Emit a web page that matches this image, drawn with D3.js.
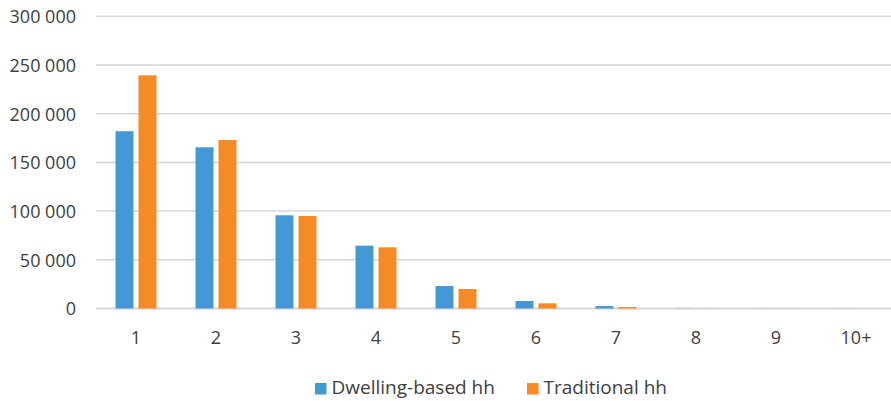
<!DOCTYPE html>
<html>
<head>
<meta charset="utf-8">
<script src="https://cdn.jsdelivr.net/npm/d3@7"></script>
<style>
  html, body { margin: 0; padding: 0; background: #fff; }
  svg { display: block; }
  text { font-family: "Open Sans", "Noto Sans", sans-serif; fill: #404040; }
</style>
</head>
<body>
<svg id="chart" width="891" height="401"></svg>
<script>
// Household size categories
const categories = ["1", "2", "3", "4", "5", "6", "7", "8", "9", "10+"];
const seriesNames = ["Dwelling-based hh", "Traditional hh"];
const dwellingBased = [182000, 165500, 95700, 64500, 23100, 7700, 2500, 150, 50, 20];
const traditional   = [239400, 173000, 95000, 62800, 20000, 5300, 1500, 80, 30, 10];
const yTicks = [0, 50000, 100000, 150000, 200000, 250000, 300000];
const colors = ["#4499D4", "#F68A26"];

const svg = d3.select("#chart");
const W = 891, H = 401;

const x = d3.scaleBand().domain(categories).range([96, 896]).padding(0);
const xInner = d3.scaleBand().domain(seriesNames).range([0, 41]).paddingInner(0.217);
const y = d3.scaleLinear().domain([0, 300000]).range([308.5, 16.3]);

const fmt = d3.formatLocale({ decimal: ".", thousands: " ", grouping: [3], currency: ["", ""] }).format(",");

// Y labels
const yAxis = d3.axisLeft(y).tickValues(yTicks).tickSize(0).tickPadding(0).tickFormat(fmt);
const gy = svg.append("g").attr("transform", "translate(76,0)").call(yAxis);
gy.select(".domain").remove();
gy.selectAll("text").style("font-size", "18px").style("fill", "#404040").attr("dy", "0.36em");

// Horizontal gridlines
svg.append("g").selectAll("line")
  .data(yTicks)
  .join("line")
  .attr("x1", 96).attr("x2", W)
  .attr("y1", d => y(d)).attr("y2", d => y(d))
  .attr("stroke", "#d6d6d6")
  .attr("stroke-width", d => d === 0 ? 2 : 1.5);

// Bars
const rows = categories.map((c, i) => ({ cat: c, values: [dwellingBased[i], traditional[i]] }));
const groups = svg.append("g").selectAll("g")
  .data(rows)
  .join("g")
  .attr("transform", d => `translate(${x(d.cat) + x.bandwidth() / 2 - 20.5},0)`);

groups.selectAll("rect")
  .data(d => d.values.map((v, k) => ({ name: seriesNames[k], value: v, k })))
  .join("rect")
  .attr("x", d => xInner(d.name))
  .attr("width", xInner.bandwidth())
  .attr("y", d => y(d.value))
  .attr("height", d => y(0) - y(d.value))
  .attr("fill", d => colors[d.k]);

// X axis labels
const xAxis = d3.axisBottom(x).tickSize(0).tickPadding(0);
const gx = svg.append("g").attr("transform", "translate(0,331)").call(xAxis);
gx.select(".domain").remove();
gx.selectAll("text").style("font-size", "18px").style("fill", "#404040").attr("dy", "0.71em");

// Legend
const legendItems = [
  { name: seriesNames[0], color: colors[0], x: 315 },
  { name: seriesNames[1], color: colors[1], x: 527 }
];
const lg = svg.append("g").selectAll("g").data(legendItems).join("g")
  .attr("transform", d => `translate(${d.x},0)`);
lg.append("rect").attr("x", 0).attr("y", 383).attr("width", 11.5).attr("height", 11.5).attr("fill", d => d.color);
lg.append("text").attr("x", 16.5).attr("y", 394).style("font-size", "19px").text(d => d.name);
</script>
</body>
</html>
